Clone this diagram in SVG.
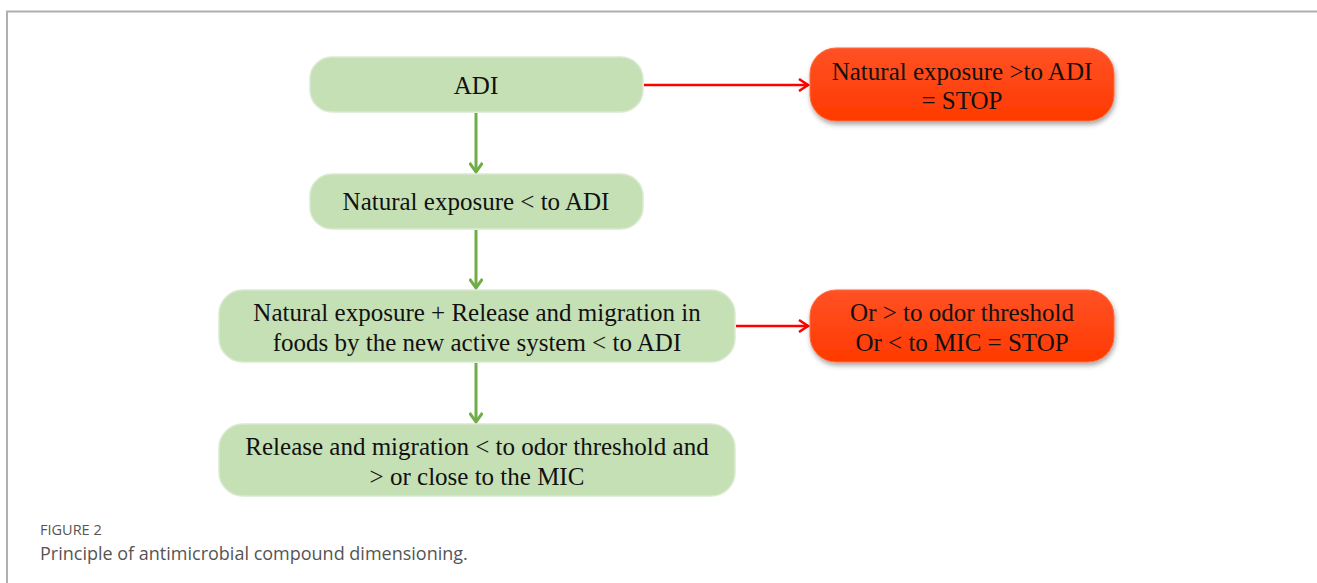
<svg xmlns="http://www.w3.org/2000/svg" width="1317" height="583" viewBox="0 0 1317 583">
<style>
.g{fill:#c5e0b4;stroke:#d9ead0;stroke-width:1.5}
.r{fill:url(#rg);stroke:#ff6a3a;stroke-width:1}
.t{font-family:"Liberation Serif","Times New Roman",serif;font-size:25px;fill:#111;text-anchor:middle}
.ga{stroke:#70ad47;stroke-width:3;fill:none}
.ra{stroke:#ff0000;stroke-width:2.5;fill:none}
.cap1{font-family:"Open Sans","Noto Sans",sans-serif;font-size:14.5px;fill:#555}
.cap2{font-family:"Open Sans","Noto Sans",sans-serif;font-size:18px;fill:#555}
</style>
<defs>
<linearGradient id="rg" x1="0" y1="0" x2="0" y2="1">
<stop offset="0" stop-color="#ff5226"/>
<stop offset="1" stop-color="#ff3a00"/>
</linearGradient>
<filter id="sh" x="-10%" y="-20%" width="120%" height="150%">
<feDropShadow dx="1" dy="3" stdDeviation="2.5" flood-color="#000" flood-opacity="0.35"/>
</filter>
<marker id="mg" markerWidth="14" markerHeight="14" refX="11" refY="7" orient="auto" markerUnits="userSpaceOnUse">
<path d="M2,0.5 L11,7 L2,13.5" fill="none" stroke="#70ad47" stroke-width="3"/>
</marker>
<marker id="mr" markerWidth="14" markerHeight="14" refX="12" refY="7" orient="auto" markerUnits="userSpaceOnUse">
<path d="M3,1 L12,7 L3,13" fill="none" stroke="#ff0000" stroke-width="2.5"/>
</marker>
</defs>
<rect width="1317" height="583" fill="#fff"/>
<path d="M7,583 V11.5 H1317" fill="none" stroke="#b0b0b0" stroke-width="2"/>
<g id="connectors">
<path class="ga" d="M476,113 V172" marker-end="url(#mg)"/>
<path class="ga" d="M476,230 V288" marker-end="url(#mg)"/>
<path class="ga" d="M476,363 V422" marker-end="url(#mg)"/>
<path class="ra" d="M644,85 H808" marker-end="url(#mr)"/>
<path class="ra" d="M736,326 H808" marker-end="url(#mr)"/>
</g>
<g id="n1"><rect class="g" x="310" y="57" width="333" height="55" rx="22"/><text class="t" x="476" y="94">ADI</text></g>
<g id="n2"><rect class="g" x="310" y="174" width="333" height="55" rx="22"/><text class="t" x="476" y="210">Natural exposure &lt; to ADI</text></g>
<g id="n3"><rect class="g" x="219" y="290" width="516" height="72" rx="24"/><text class="t" x="477" y="321">Natural exposure + Release and migration  in</text><text class="t" x="477" y="351">foods by the new active system &lt; to ADI</text></g>
<g id="n4"><rect class="g" x="219" y="424" width="516" height="72" rx="24"/><text class="t" x="477" y="455">Release and migration  &lt; to odor threshold and</text><text class="t" x="477" y="485">&gt; or close to the MIC</text></g>
<g id="n5"><rect class="r" x="810" y="48" width="304" height="73" rx="26" filter="url(#sh)"/><text class="t" x="962" y="80">Natural exposure &gt;to ADI</text><text class="t" x="962" y="109">= STOP</text></g>
<g id="n6"><rect class="r" x="810" y="290" width="304" height="72" rx="26" filter="url(#sh)"/><text class="t" x="962" y="321">Or &gt; to odor threshold</text><text class="t" x="962" y="351">Or &lt; to MIC = STOP</text></g>
<text class="cap1" x="40" y="535">FIGURE 2</text>
<text class="cap2" x="40" y="560">Principle of antimicrobial compound dimensioning.</text>
</svg>
